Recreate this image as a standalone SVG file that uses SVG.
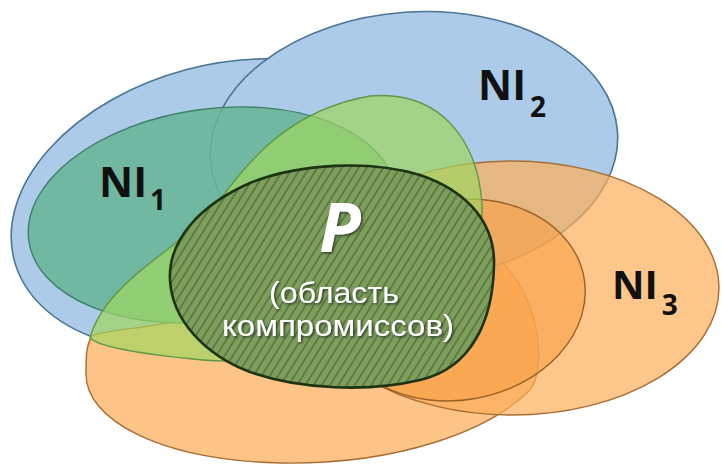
<svg xmlns="http://www.w3.org/2000/svg" width="722" height="464" viewBox="0 0 722 464">
  <defs>
    <style>
      .blue { fill: #abcbe8; stroke: #4a7596; stroke-width: 1.6; }
      .orange { fill: #fdc487; stroke: #a86d33; stroke-width: 1.4; }
      .ni3 { fill: #fcae58; fill-opacity: 0.7; stroke: #a86d33; stroke-width: 1.4; }
      .inner-orange { fill: #f8a046; fill-opacity: 0.6; stroke: #9c6025; stroke-width: 1.4; }
      .dark-green { fill: #66b595; fill-opacity: 0.85; stroke: #3f7e68; stroke-width: 1.4; }
      .light-green { fill: #a0d65f; fill-opacity: 0.7; stroke: #5e9848; stroke-width: 1.4; }
      .pareto { fill: url(#hatch); stroke: #1d3312; stroke-width: 2.6; }
      .label { font-family: "Open Sans", "Noto Sans", "DejaVu Sans", sans-serif; font-weight: bold; fill: #111; }
      .sub { font-size: 28px; }
      .white { fill: #ffffff; filter: url(#shadow); text-anchor: middle; }
      .caption { font-family: "Liberation Sans", Arial, sans-serif; }
      .big-p { font-family: "Open Sans", "Noto Sans", "DejaVu Sans", sans-serif; }
    </style>
    <pattern id="hatch" patternUnits="userSpaceOnUse" width="7" height="7" patternTransform="rotate(32)">
      <rect width="7" height="7" fill="#7f9e5e"/>
      <line x1="1" y1="0" x2="1" y2="7" stroke="#567a3e" stroke-width="1.8"/>
    </pattern>
    <filter id="shadow" x="-10%" y="-10%" width="130%" height="140%">
      <feDropShadow dx="1.5" dy="1.5" stdDeviation="1" flood-color="#26331c" flood-opacity="0.85"/>
    </filter>
  </defs>

  <rect width="722" height="464" fill="#ffffff"/>

  <!-- NI1: outer set -->
  <g id="ni1">
    <ellipse class="blue" cx="222" cy="205" rx="215" ry="140" transform="rotate(-15 222 205)"/>
  </g>

  <!-- lower orange set -->
  <g id="orange-lower">
    <path class="orange" d="M 86,372 C 84,420 160,460 280,463 C 400,465 490,430 530,390 C 546,370 542,305 503,263 C 470,228 400,225 330,250 C 270,272 220,300 185,318 C 150,330 110,328 92,336 C 86,345 86,358 86,372 Z"/>
  </g>

  <!-- NI2 -->
  <g id="ni2">
    <ellipse class="blue" cx="414" cy="146" rx="204" ry="134" transform="rotate(-4 414 146)"/>
  </g>

  <!-- NI1: inner region -->
  <g id="ni1-inner">
    <ellipse class="dark-green" cx="212" cy="215" rx="185" ry="106" transform="rotate(-8 212 215)"/>
  </g>

  <!-- NI3 -->
  <g id="ni3">
    <ellipse class="ni3" cx="512" cy="288" rx="207" ry="127"/>
  </g>

  <!-- NI3: inner region -->
  <g id="ni3-inner">
    <ellipse class="inner-orange" cx="458" cy="300" rx="128" ry="100" transform="rotate(-10 458 300)"/>
  </g>

  <!-- NI2: inner region -->
  <g id="ni2-inner">
    <path class="light-green" d="M 90,338 C 100,300 140,270 172,246 C 195,228 212,210 225,193 C 250,160 290,110 370,96 C 440,90 478,140 482,205 C 484,280 420,330 300,352 C 250,362 225,362 203,360 C 150,355 100,348 90,338 Z"/>
  </g>

  <!-- P: compromise region -->
  <g id="p-region">
    <path class="pareto" d="M 170,280 C 168,240 200,205 250,183 C 300,163 370,160 420,175 C 470,192 495,225 494,265 C 493,320 472,368 420,380 C 370,392 300,390 250,372 C 205,355 172,320 170,280 Z"/>
  </g>

  <!-- labels -->
  <g id="labels">
    <text class="label" x="99" y="197" font-size="42">NI<tspan class="sub" dx="3" dy="13">1</tspan></text>
    <text class="label" x="478" y="100" font-size="42">NI<tspan class="sub" dx="4" dy="17">2</tspan></text>
    <text class="label" x="612" y="299" font-size="40">NI<tspan class="sub" dx="4" dy="16">3</tspan></text>
    <text class="white big-p" x="340" y="252" font-size="68" font-weight="bold" font-style="italic">P</text>
    <text class="white caption" x="334" y="303" font-size="29" textLength="130" lengthAdjust="spacingAndGlyphs">(область</text>
    <text class="white caption" x="338" y="336" font-size="29" textLength="232" lengthAdjust="spacingAndGlyphs">компромиссов)</text>
  </g>
</svg>
